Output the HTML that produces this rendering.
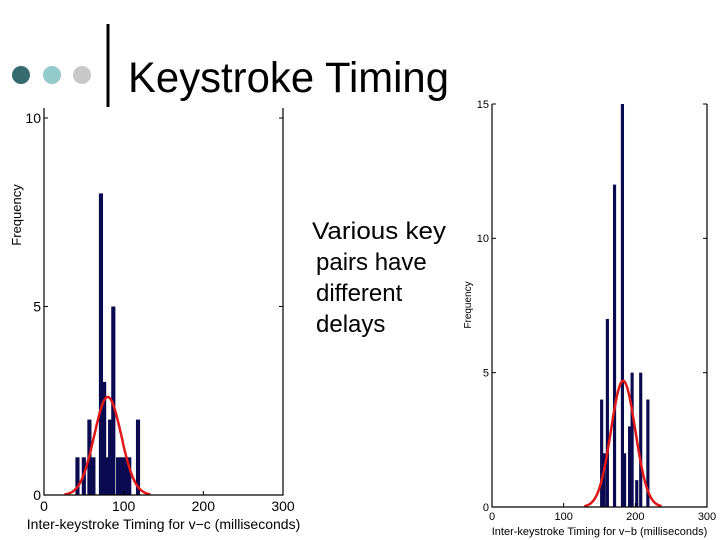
<!DOCTYPE html>
<html><head><meta charset="utf-8"><style>
html,body{margin:0;padding:0;background:#fff;}
svg{display:block;font-family:"Liberation Sans",sans-serif;}
</style></head><body>
<svg id="s" width="720" height="540" viewBox="0 0 720 540">
<circle cx="21" cy="75" r="9" fill="#356b6e"/>
<circle cx="52" cy="75" r="9" fill="#93cbcc"/>
<circle cx="82" cy="75" r="9" fill="#c8c8c8"/>
<rect x="106.5" y="24" width="3" height="83" fill="#000"/>
<text x="128" y="92" font-size="43" textLength="321" lengthAdjust="spacingAndGlyphs">Keystroke Timing</text>
<g font-size="24">
<text x="312" y="239" textLength="134" lengthAdjust="spacingAndGlyphs">Various key</text>
<text x="316" y="270">pairs have</text>
<text x="316" y="301">different</text>
<text x="316" y="332">delays</text>
</g>
<g id="c1"></g>
<g id="c2"></g>
</svg>
<script>
// Left chart (v-c)
const c1Centers=[42,50,57,62,71.5,75.5,79,83,87,93,98,103,107,118];
const c1Heights=[1,1,2,1,8,3,1,2,5,1,1,1,1,2];
const c1Ticks=[0,100,200,300];
const c1YTicks=[0,5,10];
const c1Mean=80, c1Sigma=17, c1Peak=2.6;
// Right chart (v-b)
const c2Centers=[153,156.5,161,171,182,185,192,195.5,202,207.5,217.5];
const c2Heights=[4,2,7,12,15,2,3,5,1,5,4];
const c2Ticks=[0,100,200,300];
const c2YTicks=[0,5,10,15];
const c2Mean=183, c2Sigma=17, c2Peak=4.7;

const NS="http://www.w3.org/2000/svg";
function mk(p,t,a){const e=document.createElementNS(NS,t);for(const k in a)e.setAttribute(k,a[k]);p.appendChild(e);return e;}

function draw(gid,o,centers,heights,ticks,yticks,mean,sigma,peak){
  const g=document.getElementById(gid);
  const xs=v=>o.x0+(v-0)/300*(o.x1-o.x0);
  const ys=v=>o.y0-v/o.ymax*(o.y0-o.ytop);
  const bw=o.bw*(o.x1-o.x0)/300;
  centers.forEach((c,i)=>{
    const r=mk(g,'rect',{x:xs(c)-bw/2,y:ys(heights[i]),width:bw,height:o.y0-ys(heights[i]),fill:'#0a0a50'});
    
    
  });
  let d='';
  for(let v=mean-3.2*sigma;v<=mean+3.2*sigma;v+=1){
    const y=peak*Math.exp(-((v-mean)**2)/(2*sigma*sigma));
    d+=(d?'L':'M')+xs(v).toFixed(1)+','+ys(y).toFixed(1);
  }
  const p=mk(g,'path',{d:d,fill:'none',stroke:'#e01818','stroke-width':2.5});
  
  
  const ax=mk(g,'path',{d:`M${o.x0},${o.top}V${o.y0}H${o.x1}V${o.top}`,fill:'none',stroke:'#000','stroke-width':1.2});
  
  
  ticks.forEach(t=>{
    mk(g,'line',{x1:xs(t),x2:xs(t),y1:o.y0,y2:o.y0-4,stroke:'#000'});
    const tx=mk(g,'text',{x:xs(t),y:o.y0+o.fs+2,'font-size':o.fs,'text-anchor':'middle'});
    tx.textContent=t;
    
    
  });
  yticks.forEach(t=>{
    mk(g,'line',{x1:o.x0,x2:o.x0+4,y1:ys(t),y2:ys(t),stroke:'#000'});
    mk(g,'line',{x1:o.x1,x2:o.x1-4,y1:ys(t),y2:ys(t),stroke:'#000'});
    const tx=mk(g,'text',{x:o.x0-3,y:ys(t)+o.fs*0.35,'font-size':o.fs,'text-anchor':'end'});
    tx.textContent=t;
    
    
  });
  const xl=mk(g,'text',{x:(o.x0+o.x1)/2,y:o.y0+o.fs*2+6,'font-size':o.fs,'text-anchor':'middle'});
  xl.textContent=o.xlabel;
  
  
  const yl=mk(g,'text',{x:0,y:0,'font-size':o.fs-1,'text-anchor':'middle',transform:`translate(${o.ylx},${o.yly}) rotate(-90)`});
  yl.textContent='Frequency';
  
  
}
draw('c1',{x0:44,x1:283,y0:495,ytop:118,top:108,ymax:10,bw:5.2,fs:14,xlabel:'Inter-keystroke Timing for v\u2212c (milliseconds)',ylx:21,yly:215},
  c1Centers,c1Heights,c1Ticks,c1YTicks,c1Mean,c1Sigma,c1Peak);
draw('c2',{x0:492,x1:707,y0:507,ytop:104,top:104,ymax:15,bw:4.4,fs:11,xlabel:'Inter-keystroke Timing for v\u2212b (milliseconds)',ylx:471,yly:305},
  c2Centers,c2Heights,c2Ticks,c2YTicks,c2Mean,c2Sigma,c2Peak);
</script>
</body></html>
